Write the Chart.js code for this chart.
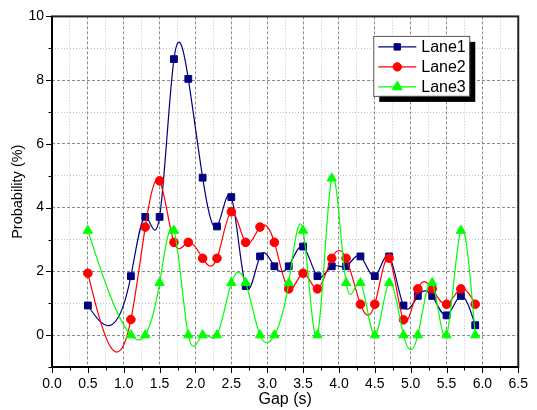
<!DOCTYPE html>
<html><head><meta charset="utf-8">
<script src="https://cdn.jsdelivr.net/npm/chart.js@4/dist/chart.umd.min.js"></script>
<style>html,body{margin:0;padding:0;background:#fff}#wrap{width:537px;height:410px;position:relative}</style>
</head><body><div id="wrap"><canvas id="c"></canvas></div>
<script>
// ---- data ----
const gaps  = [0.5,1.1,1.3,1.5,1.7,1.9,2.1,2.3,2.5,2.7,2.9,3.1,3.3,3.5,3.7,3.9,4.1,4.3,4.5,4.7,4.9,5.1,5.3,5.5,5.7,5.9];
const lane1 = [0.93,1.85,3.71,3.71,8.66,8.04,4.94,3.41,4.33,1.54,2.47,2.16,2.16,2.78,1.85,2.16,2.16,2.47,1.85,2.47,0.93,1.23,1.23,0.62,1.23,0.31];
const lane2 = [1.94,0.49,3.39,4.84,2.91,2.91,2.41,2.41,3.87,2.91,3.39,2.91,1.45,1.94,1.45,2.41,2.41,0.97,0.97,2.41,0.48,1.45,1.45,0.97,1.45,0.97];
const lane3 = [3.28,0,0,1.64,3.28,0,0,0,1.64,1.64,0,0,1.64,3.28,0,4.92,1.64,1.64,0,1.64,0,0,1.64,0,3.28,0];
const seriesNames = ['Lane1','Lane2','Lane3'];
const xTickLabels = ['0.0','0.5','1.0','1.5','2.0','2.5','3.0','3.5','4.0','4.5','5.0','5.5','6.0','6.5'];
const yTickLabels = ['0','2','4','6','8','10'];
const xTitle = 'Gap (s)';
const yTitle = 'Probability (%)';

const FONT = "'Liberation Sans', Arial, sans-serif";
const colors = ['#000080','#ff0000','#00ff00'];
const styles = ['rect','circle','triangle'];
const radii = [4.8,4.3,5.4];

const isMajorX = v => Math.abs(v*2 - Math.round(v*2)) < 1e-6;
const isMajorY = v => Math.abs(v/2 - Math.round(v/2)) < 1e-6;

function mk(i, arr){
  return {
    label: seriesNames[i],
    data: gaps.map((g,k)=>({x:g, y:arr[k]})),
    borderColor: colors[i], backgroundColor: colors[i],
    borderWidth: 1.2, pointStyle: styles[i], pointRadius: radii[i],
    pointBorderWidth: 1, pointBorderColor: colors[i], pointBackgroundColor: colors[i],
    tension: 0.4, capBezierPoints: false, fill: false, order: 2 - i
  };
}

// natural cubic spline control points (Origin-style "Spline" connection), set on the library's own point elements
function setSplineControlPoints(pts){
  const n = pts.length; if (n < 3) return;
  const xs = pts.map(p => p.x), ys = pts.map(p => p.y);
  const h = []; for (let i = 0; i < n-1; i++) h[i] = xs[i+1] - xs[i];
  const M = new Array(n).fill(0), cp = [], dp = [];
  for (let i = 1; i < n-1; i++){
    const a = h[i-1], b = 2*(h[i-1]+h[i]), c = h[i];
    const d = 6*((ys[i+1]-ys[i])/h[i] - (ys[i]-ys[i-1])/h[i-1]);
    const m = b - (i > 1 ? a*cp[i-1] : 0);
    cp[i] = c/m; dp[i] = (d - (i > 1 ? a*dp[i-1] : 0))/m;
  }
  for (let i = n-2; i >= 1; i--) M[i] = dp[i] - cp[i]*M[i+1];
  pts[0].cp1x = xs[0]; pts[0].cp1y = ys[0];
  pts[n-1].cp2x = xs[n-1]; pts[n-1].cp2y = ys[n-1];
  for (let i = 0; i < n-1; i++){
    const hh = h[i], s = (ys[i+1]-ys[i])/hh;
    const d0 = s - hh*(2*M[i]+M[i+1])/6;
    const d1 = s + hh*(M[i]+2*M[i+1])/6;
    pts[i].cp2x = xs[i] + hh/3; pts[i].cp2y = ys[i] + d0*hh/3;
    pts[i+1].cp1x = xs[i+1] - hh/3; pts[i+1].cp1y = ys[i+1] - d1*hh/3;
  }
}

const spline = {
  id: 'spline',
  beforeDatasetDraw(chart, args){
    const meta = chart.getDatasetMeta(args.index);
    if (!meta.dataset) return;
    setSplineControlPoints(meta.data);
    meta.dataset._pointsUpdated = true;
    meta.dataset._path = undefined;
  }
};

function drawMarker(ctx, style, x, y, r, color){
  ctx.fillStyle = color; ctx.strokeStyle = color; ctx.lineWidth = 1;
  ctx.beginPath();
  if (style === 'rect'){ const s = r*Math.SQRT1_2; ctx.rect(x-s,y-s,2*s,2*s); }
  else if (style === 'circle'){ ctx.arc(x,y,r,0,Math.PI*2); }
  else { for (let k=0;k<3;k++){ const a = k*2*Math.PI/3; const px = x+Math.sin(a)*r, py = y-Math.cos(a)*r; k?ctx.lineTo(px,py):ctx.moveTo(px,py);} ctx.closePath(); }
  ctx.fill(); ctx.stroke();
}

const decor = {
  id: 'decor',
  afterDatasetsDraw(chart){
    const {ctx, chartArea:a, scales:{x, y}} = chart;
    ctx.save();
    ctx.strokeStyle = '#000'; ctx.lineWidth = 1;
    x.ticks.forEach(t => {
      const px = Math.round(x.getPixelForValue(t.value)) + 0.5;
      ctx.beginPath(); ctx.moveTo(px, a.bottom); ctx.lineTo(px, a.bottom + (isMajorX(t.value) ? 6 : 3.5)); ctx.stroke();
    });
    y.ticks.forEach(t => {
      const py = Math.round(y.getPixelForValue(t.value)) + 0.5;
      ctx.beginPath(); ctx.moveTo(a.left, py); ctx.lineTo(a.left - (isMajorY(t.value) ? 6 : 3.5), py); ctx.stroke();
    });
    // frame
    ctx.lineWidth = 2; ctx.strokeStyle = '#222';
    ctx.strokeRect(a.left, a.top, a.right - a.left, a.bottom - a.top);
    ctx.strokeStyle = '#000';
    ctx.beginPath(); ctx.moveTo(a.left, a.top); ctx.lineTo(a.left, a.bottom); ctx.lineTo(a.right, a.bottom); ctx.stroke();
    // legend
    const lx = a.right - 145, ly = a.top + 19.5, lw = 96, lh = 60;
    ctx.fillStyle = '#000'; ctx.fillRect(lx + 6, ly + 6, lw, lh);
    ctx.fillStyle = '#fff'; ctx.fillRect(lx, ly, lw, lh);
    ctx.strokeStyle = '#555'; ctx.lineWidth = 1; ctx.strokeRect(lx + 0.5, ly + 0.5, lw, lh);
    chart.data.datasets.forEach((ds, i) => {
      const ry = ly + 11 + i*20;
      ctx.strokeStyle = colors[i]; ctx.lineWidth = 1.2;
      ctx.beginPath(); ctx.moveTo(lx + 5, ry); ctx.lineTo(lx + 43, ry); ctx.stroke();
      drawMarker(ctx, styles[i], lx + 24, ry, i===1?4.2:(i===2?5.8:4.5), colors[i]);
      ctx.fillStyle = '#000'; ctx.font = '16px ' + FONT; ctx.textBaseline = 'middle'; ctx.textAlign = 'left';
      ctx.fillText(ds.label, lx + 48, ry + 1);
    });
    ctx.restore();
  }
};

new Chart(document.getElementById('c'), {
  type: 'line',
  data: { datasets: [mk(0, lane1), mk(1, lane2), mk(2, lane3)] },
  options: {
    responsive: true, maintainAspectRatio: false, animation: false,
    layout: { padding: { top: 13, right: 9, left: 0, bottom: 0 } },
    plugins: { legend: { display: false }, tooltip: { enabled: false } },
    scales: {
      x: {
        type: 'linear', min: 0, max: 6.5,
        afterFit: s => { s.height = 43; },
        ticks: { stepSize: 0.25, autoSkip: false, maxRotation: 0, padding: 9, color: '#000',
          font: { family: FONT, size: 14 },
          callback: v => isMajorX(v) ? xTickLabels[Math.round(v*2)] : '' },
        grid: { drawTicks: false, lineWidth: 1,
          color: c => isMajorX(c.tick.value) ? '#8a8a8a' : '#c4c4c4' },
        border: { display: false, dash: c => (c.tick && isMajorX(c.tick.value)) ? [3,2] : [1,2] },
        title: { display: true, text: xTitle, color: '#000', font: { family: FONT, size: 16 }, padding: { top: 0, bottom: 1 } }
      },
      y: {
        min: -1, max: 10,
        afterFit: s => { s.width = 52; },
        ticks: { stepSize: 1, autoSkip: false, padding: 8, color: '#000',
          font: { family: FONT, size: 14 },
          callback: v => (v >= 0 && isMajorY(v)) ? yTickLabels[Math.round(v/2)] : '' },
        grid: { drawTicks: false, lineWidth: 1,
          color: c => isMajorY(c.tick.value) ? '#8a8a8a' : '#c4c4c4' },
        border: { display: false, dash: c => (c.tick && isMajorY(c.tick.value)) ? [3,2] : [1,2] },
        title: { display: true, text: yTitle, color: '#000', font: { family: FONT, size: 14.5 }, padding: { top: 9, bottom: 0 } }
      }
    }
  },
  plugins: [spline, decor]
});
</script>
</body></html>
